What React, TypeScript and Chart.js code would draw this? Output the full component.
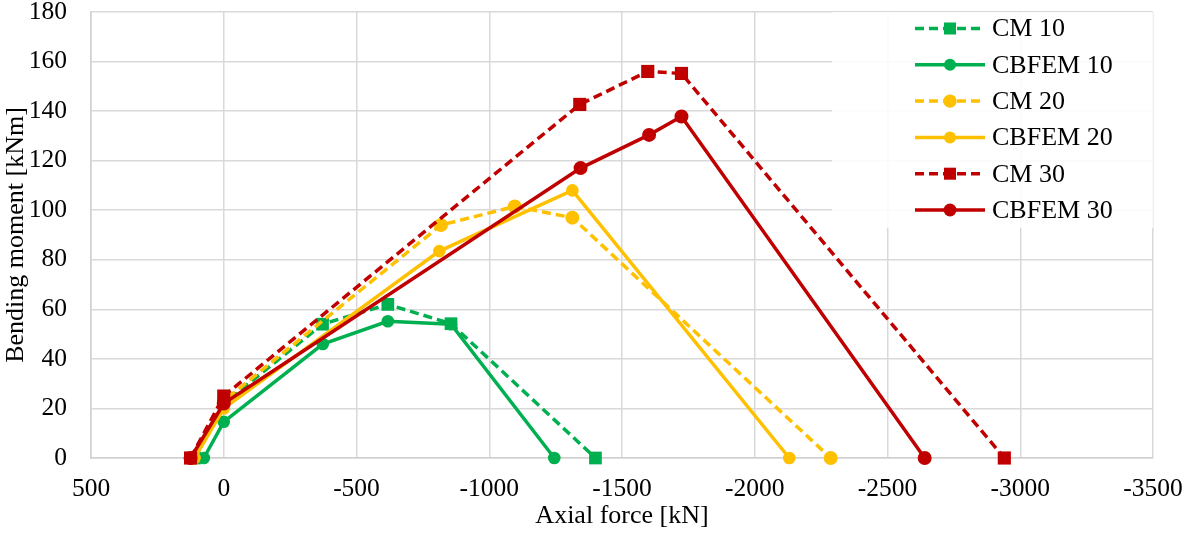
import { useEffect, useRef } from "react"
import { Chart, registerables, type ChartConfiguration } from "chart.js"

Chart.register(...registerables)

// axial force [kN] / bending moment [kNm]
const cm10X = [110, 0, -372, -618, -856, -1400]
const cm10Y = [0, 22, 54, 62, 54.2, 0]
const cbfem10X = [75, 0, -373, -618, -856, -1245]
const cbfem10Y = [0, 14.6, 46, 55.2, 54, 0]
const cm20X = [115, 0, -818, -1096, -1313, -2286]
const cm20Y = [0, 23, 94, 101.5, 97, 0]
const cbfem20X = [110, 0, -812, -1313, -2130]
const cbfem20Y = [0, 20, 83.5, 108, 0]
const cm30X = [125, 0, -1341, -1597, -1724, -2940]
const cm30Y = [0, 25, 142.7, 156, 155.2, 0]
const cbfem30X = [125, 0, -1344, -1602, -1724, -2640]
const cbfem30Y = [0, 22, 117, 130.4, 137.8, 0]

const seriesNames = ["CM 10", "CBFEM 10", "CM 20", "CBFEM 20", "CM 30", "CBFEM 30"]
const xTicks = [500, 0, -500, -1000, -1500, -2000, -2500, -3000, -3500]
const yTicks = [0, 20, 40, 60, 80, 100, 120, 140, 160, 180]

const GREEN = "#00b050"
const YELLOW = "#ffc000"
const RED = "#c00000"
const FONT = "'Liberation Serif', 'Times New Roman', serif"
const DASH = [9, 5]
const CLEAR = "rgba(0,0,0,0)"

const toPoints = (xs: number[], ys: number[]) => xs.map((x, i) => ({ x, y: ys[i] }))

// r = marker radius on the plot, lr = marker radius in the legend
const styles = [
  { color: GREEN, dash: DASH, marker: "rect", r: 9, lr: 8.5 },
  { color: GREEN, dash: [], marker: "circle", r: 6.3, lr: 6 },
  { color: YELLOW, dash: DASH, marker: "circle", r: 7, lr: 6.7 },
  { color: YELLOW, dash: [], marker: "circle", r: 6.3, lr: 6 },
  { color: RED, dash: DASH, marker: "rect", r: 9.3, lr: 8.5 },
  { color: RED, dash: [], marker: "circle", r: 7, lr: 6.5 },
]

function drawMarker(ctx: CanvasRenderingContext2D, marker: string, x: number, y: number, r: number) {
  ctx.beginPath()
  if (marker === "rect") {
    const s = Math.SQRT1_2 * r
    ctx.rect(x - s, y - s, 2 * s, 2 * s)
  } else {
    ctx.arc(x, y, r, 0, Math.PI * 2)
  }
  ctx.fill()
}

const insideLegend = {
  id: "insideLegend",
  afterDraw(chart: Chart) {
    const { ctx, chartArea } = chart
    ctx.save()
    ctx.fillStyle = "rgba(255,255,255,0.88)"
    ctx.fillRect(832, chartArea.top, chartArea.right - 832, 228 - chartArea.top)
    seriesNames.forEach((name, i) => {
      const st = styles[i]
      const y = 28.5 + i * 36.3
      ctx.strokeStyle = st.color
      ctx.fillStyle = st.color
      ctx.lineWidth = 3.5
      ctx.setLineDash(st.dash)
      ctx.beginPath()
      ctx.moveTo(915, y)
      ctx.lineTo(985, y)
      ctx.stroke()
      ctx.setLineDash([])
      drawMarker(ctx, st.marker, 950, y, st.lr)
      ctx.fillStyle = "#000"
      ctx.font = `26px ${FONT}`
      ctx.textBaseline = "middle"
      ctx.textAlign = "left"
      ctx.fillText(name, 992, y + 1)
    })
    ctx.restore()
  },
}

export default function App() {
  const chartRef = useRef<HTMLCanvasElement | null>(null)
  const chartInstance = useRef<Chart | null>(null)

  useEffect(() => {
    document.body.style.margin = "0"
    if (!chartRef.current) return
    const ctx = chartRef.current.getContext("2d")
    if (!ctx) return
    if (chartInstance.current) chartInstance.current.destroy()

    const series = [
      toPoints(cm10X, cm10Y),
      toPoints(cbfem10X, cbfem10Y),
      toPoints(cm20X, cm20Y),
      toPoints(cbfem20X, cbfem20Y),
      toPoints(cm30X, cm30Y),
      toPoints(cbfem30X, cbfem30Y),
    ]

    const config: ChartConfiguration<"line"> = {
      type: "line",
      data: {
        datasets: series.map((data, i) => ({
          label: seriesNames[i],
          data,
          borderColor: styles[i].color,
          backgroundColor: styles[i].color,
          borderWidth: 3.5,
          borderDash: styles[i].dash,
          pointStyle: styles[i].marker as "rect" | "circle",
          pointRadius: styles[i].r,
          pointBorderWidth: 0,
          tension: 0,
          clip: false as any,
          order: 5 - i,
        })),
      },
      options: {
        responsive: true,
        maintainAspectRatio: false,
        animation: false,
        layout: { padding: { left: 0, top: 12, right: 36, bottom: 0 } },
        plugins: {
          legend: { display: false },
          tooltip: { enabled: false },
        },
        scales: {
          x: {
            type: "linear",
            reverse: true,
            min: -3500,
            max: 500,
            afterBuildTicks: (scale) => {
              scale.ticks = xTicks.map((value) => ({ value }))
            },
            afterFit: (scale) => {
              scale.height = 75
            },
            grid: { color: "#d9d9d9", lineWidth: 1.5, drawTicks: true, tickLength: 16, tickColor: CLEAR },
            border: { color: "#d0d0d0", width: 1.5 },
            ticks: {
              color: "#000",
              font: { family: FONT, size: 25.5, lineHeight: 1.2 },
              padding: 0,
              maxRotation: 0,
              callback: (v) => String(v),
            },
            title: {
              display: true,
              text: "Axial force [kN]",
              color: "#000",
              font: { family: FONT, size: 26 },
              padding: { top: 0, bottom: 1 },
            },
          },
          y: {
            min: 0,
            max: 180,
            afterBuildTicks: (scale) => {
              scale.ticks = yTicks.map((value) => ({ value }))
            },
            afterFit: (scale) => {
              scale.width = 91
            },
            grid: { color: "#d9d9d9", lineWidth: 1.5, drawTicks: true, tickLength: 24, tickColor: CLEAR },
            border: { color: "#d0d0d0", width: 1.5 },
            ticks: {
              color: "#000",
              font: { family: FONT, size: 25.5, lineHeight: 0.9 },
              padding: 0,
              callback: (v) => String(v),
            },
            title: {
              display: true,
              text: "Bending moment [kNm]",
              color: "#000",
              font: { family: FONT, size: 26 },
              padding: { top: 1, bottom: 0 },
            },
          },
        },
      },
      plugins: [insideLegend],
    }

    chartInstance.current = new Chart(ctx, config)

    return () => {
      if (chartInstance.current) {
        chartInstance.current.destroy()
        chartInstance.current = null
      }
    }
  }, [])

  return (
    <div style={{ width: 1189, height: 533, position: "relative" }}>
      <canvas ref={chartRef} />
    </div>
  )
}
